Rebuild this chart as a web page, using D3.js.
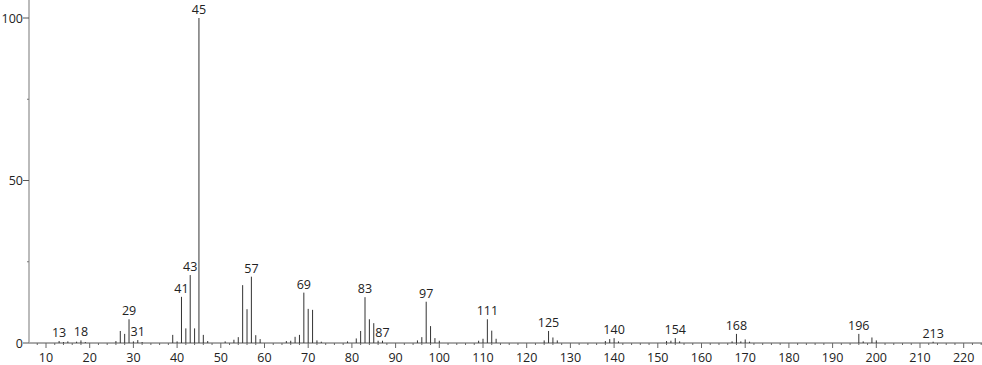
<!DOCTYPE html>
<html>
<head>
<meta charset="utf-8">
<script src="https://cdn.jsdelivr.net/npm/d3@7"></script>
<style>
  body { margin: 0; background: #fff; }
  svg { display: block; }
  text { font-family: "Open Sans", sans-serif; font-size: 12.5px; fill: #222; }
</style>
</head>
<body>
<svg id="chart" width="982" height="365"></svg>
<script>
// Datos del espectro (m/z e intensidad relativa)
const mz = [13, 14, 15, 17, 18, 19, 26, 27, 28, 29, 30, 31, 32,
  39, 40, 41, 42, 43, 44, 45, 46, 47, 51, 53, 54, 55, 56, 57, 58, 59,
  65, 66, 67, 68, 69, 70, 71, 72, 73, 79, 81, 82, 83, 84, 85, 86, 87,
  95, 96, 97, 98, 99, 100, 109, 110, 111, 112, 113,
  124, 125, 126, 127, 138, 139, 140, 141, 152, 153, 154, 155,
  167, 168, 169, 170, 171, 196, 197, 199, 200, 213];
const intensity = [0.6, 0.3, 0.5, 0.4, 0.8, 0.3, 0.6, 3.7, 2.8, 7.3, 0.5, 0.9, 0.3,
  2.5, 0.5, 14.2, 4.5, 20.9, 4.5, 100, 2.5, 0.6, 0.5, 1.0, 1.8, 17.8, 10.4, 20.4, 2.4, 1.2,
  0.6, 0.7, 1.9, 2.5, 15.5, 10.5, 10.2, 0.8, 0.4, 0.5, 1.4, 3.7, 14.1, 7.3, 6.1, 0.7, 0.7,
  0.8, 1.8, 12.7, 5.2, 1.5, 0.7, 0.7, 1.3, 7.3, 3.8, 1.3,
  0.8, 3.7, 1.7, 0.8, 0.6, 1.2, 1.5, 0.5, 0.6, 0.7, 1.5, 0.5,
  0.5, 2.8, 0.5, 1.1, 0.4, 2.8, 0.5, 1.7, 0.8, 0.4];
const labeled = [13, 18, 29, 31, 41, 43, 45, 57, 69, 83, 87, 97, 111, 125, 140, 154, 168, 196, 213];
const xTicks = d3.range(10, 221, 10);
const yTicks = [0, 50, 100];

const peaks = mz.map((m, i) => ({ m: m, v: intensity[i] }));

const svg = d3.select("#chart");
const x = d3.scaleLinear().domain([10, 220]).range([46, 963.7]);
const y = d3.scaleLinear().domain([0, 100]).range([343, 18]);
const x0 = 29, x1 = 982;

// Eje X
svg.append("line")
  .attr("x1", x0).attr("x2", x1)
  .attr("y1", y(0)).attr("y2", y(0))
  .style("stroke", "#555").style("stroke-width", 1);

svg.selectAll(".minor")
  .data(d3.range(8, 225, 2).filter(d => d % 10 !== 0))
  .enter().append("line")
  .attr("x1", d => x(d)).attr("x2", d => x(d))
  .attr("y1", y(0)).attr("y2", y(0) + 2)
  .style("stroke", "#666");

svg.selectAll(".major")
  .data(xTicks)
  .enter().append("line")
  .attr("x1", d => x(d)).attr("x2", d => x(d))
  .attr("y1", y(0)).attr("y2", y(0) + 5)
  .style("stroke", "#666");

svg.selectAll(".xlab")
  .data(xTicks)
  .enter().append("text")
  .attr("x", d => x(d))
  .attr("y", 362)
  .attr("text-anchor", "middle")
  .text(d => d);

// Eje Y
svg.append("line")
  .attr("x1", x0).attr("x2", x0)
  .attr("y1", 0).attr("y2", y(0))
  .style("stroke", "#aaa").style("stroke-width", 1.6);

svg.selectAll(".ytick")
  .data(yTicks)
  .enter().append("line")
  .attr("x1", x0 - 6).attr("x2", x0)
  .attr("y1", d => y(d)).attr("y2", d => y(d))
  .style("stroke", "#555");

svg.selectAll(".yminor")
  .data([25, 75])
  .enter().append("line")
  .attr("x1", x0 - 2).attr("x2", x0)
  .attr("y1", d => y(d)).attr("y2", d => y(d))
  .style("stroke", "#777");

svg.selectAll(".ylab")
  .data(yTicks)
  .enter().append("text")
  .attr("x", x0 - 6)
  .attr("y", d => y(d) + 4.5)
  .attr("text-anchor", "end")
  .text(d => d);

// Picos
svg.selectAll(".peak")
  .data(peaks)
  .enter().append("line")
  .attr("class", "peak")
  .attr("x1", d => x(d.m)).attr("x2", d => x(d.m))
  .attr("y1", y(0)).attr("y2", d => y(d.v))
  .style("stroke", "#333").style("stroke-width", 1);

// Etiquetas de picos
svg.selectAll(".plab")
  .data(peaks.filter(d => labeled.includes(d.m)))
  .enter().append("text")
  .attr("x", d => x(d.m))
  .attr("y", d => y(d.v) - 4)
  .attr("text-anchor", "middle")
  .text(d => d.m);
</script>
</body>
</html>
